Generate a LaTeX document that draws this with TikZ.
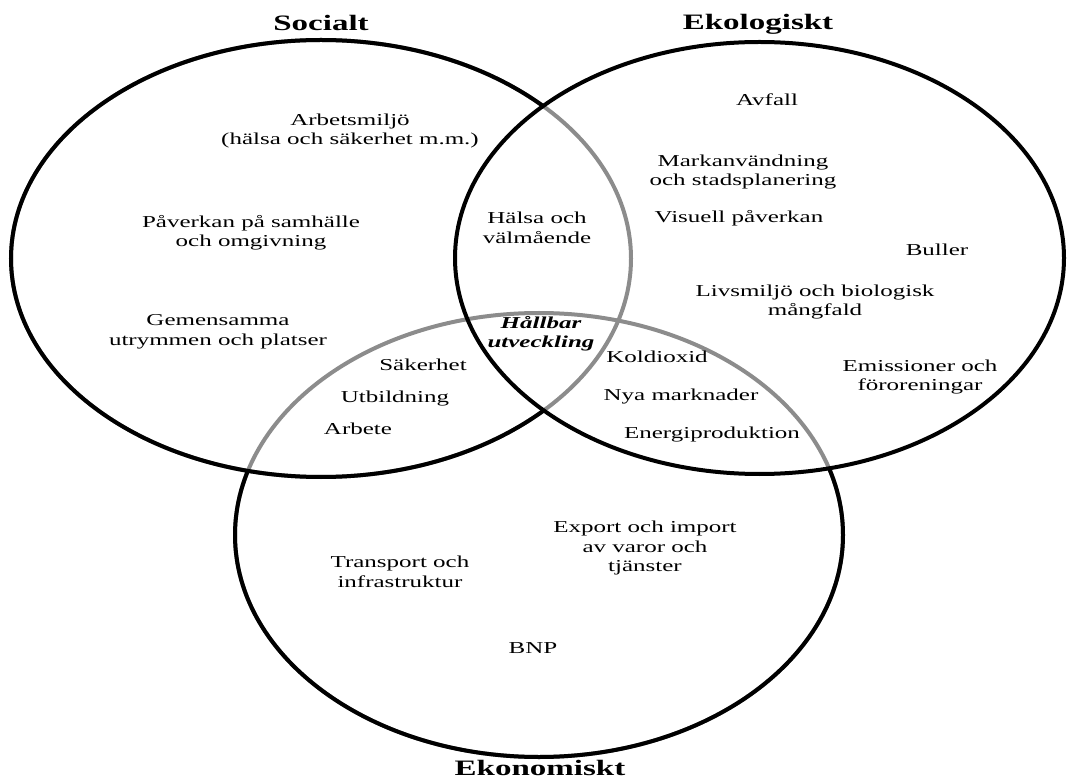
\documentclass[tikz,border=0pt]{standalone}
\usepackage{fontspec}
\setmainfont{Liberation Serif}[FakeStretch=1.5]
\begin{document}
\begin{tikzpicture}[x=0.75pt,y=-0.75pt,
	txt/.style={font=\fontsize{12.5}{14.6}\selectfont, align=center, inner sep=0pt},
	rubrik/.style={font=\fontsize{16.5}{19}\selectfont\bfseries, inner sep=0pt, anchor=base},
	ring/.style={line width=3pt},
	inre/.style={line width=3pt, draw=black!45}]

	\useasboundingbox (0,0) rectangle (1067,780);

	% Centres of the three circles
	\coordinate (soc) at (321,258.5);
	\coordinate (eko) at (759.5,258);
	\coordinate (ekn) at (539,535);

	% Grey where a circle runs inside another one
	\draw[inre] (soc) ellipse [x radius=310, y radius=218.5];
	\draw[inre] (ekn) ellipse [x radius=304, y radius=222];

	% Black outlines
	\draw[ring] (eko) ellipse [x radius=304.5, y radius=216];
	\begin{scope}[even odd rule]
		\clip (0,0) rectangle (1067,780) (eko) ellipse [x radius=304.5, y radius=216];
		\draw[ring] (soc) ellipse [x radius=310, y radius=218.5];
	\end{scope}
	\begin{scope}[even odd rule]
		\clip (0,0) rectangle (1067,780) (soc) ellipse [x radius=310, y radius=218.5];
		\begin{scope}[even odd rule]
			\clip (0,0) rectangle (1067,780) (eko) ellipse [x radius=304.5, y radius=216];
			\draw[ring] (ekn) ellipse [x radius=304, y radius=222];
		\end{scope}
	\end{scope}

	% Headings
	\node[rubrik] (socialt) at (321,31) {Socialt};
	\node[rubrik] (ekologiskt) at (758,30) {Ekologiskt};
	\node[rubrik] (ekonomiskt) at (540,775) {Ekonomiskt};

	% Socialt
	\node[txt] (arbetsmiljo) at (350,131) {Arbetsmiljö\\(hälsa och säkerhet m.m.)};
	\node[txt] (paverkan) at (251,233) {Påverkan på samhälle\\och omgivning};
	\node[txt] (gemensamma) at (218,332) {Gemensamma\\utrymmen och platser};

	% Ekologiskt
	\node[txt] (avfall) at (767,100) {Avfall};
	\node[txt] (markanv) at (743,172) {Markanvändning\\och stadsplanering};
	\node[txt] (visuell) at (739,218) {Visuell påverkan};
	\node[txt] (buller) at (937,250) {Buller};
	\node[txt] (livsmiljo) at (815,302) {Livsmiljö och biologisk\\mångfald};
	\node[txt] (emissioner) at (920,377) {Emissioner och\\föroreningar};

	% Ekonomiskt
	\node[txt] (export) at (645,548) {Export och import\\av varor och\\tjänster};
	\node[txt] (transport) at (400,572) {Transport och\\infrastruktur};
	\node[txt] (bnp) at (533,648) {BNP};

	% Overlaps
	\node[txt] (halsa) at (537,228) {Hälsa och\\välmående};
	\node[txt] (sakerhet) at (423,365) {Säkerhet};
	\node[txt] (utbildning) at (395,399) {Utbildning};
	\node[txt] (arbete) at (358,429) {Arbete};
	\node[txt] (koldioxid) at (657,357) {Koldioxid};
	\node[txt] (nyamarkn) at (681,397) {Nya marknader};
	\node[txt] (energi) at (712,435) {Energiproduktion};
	\node[txt, font=\fontsize{12.5}{14.6}\selectfont\bfseries\itshape] (hallbar) at (541,334) {Hållbar\\utveckling};

\end{tikzpicture}
\end{document}
